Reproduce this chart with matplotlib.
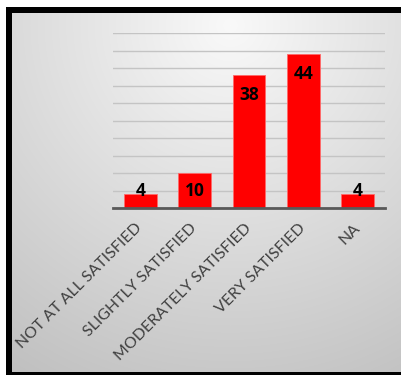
import numpy as np
import matplotlib
matplotlib.use("Agg")
import matplotlib.pyplot as plt
from matplotlib.patches import Rectangle

categories = ["NOT AT ALL SATISFIED", "SLIGHTLY SATISFIED", "MODERATELY SATISFIED",
              "VERY SATISFIED", "NA"]
values = [4, 10, 38, 44, 4]

W, H = 401, 377
fig = plt.figure(figsize=(W / 100, H / 100), dpi=100)
fig.patch.set_facecolor("white")

# black frame
fig.add_artist(Rectangle((6 / W, 1 - 375 / H), (W + 10 - 6) / W, (375 - 7) / H,
                         transform=fig.transFigure, facecolor="black",
                         edgecolor="none", zorder=0))

# gradient background panel
x0, x1, y0, y1 = 12, W, 13, 372
bg = fig.add_axes([x0 / W, 1 - y1 / H, (x1 - x0) / W, (y1 - y0) / H], zorder=0)
yy, xx = np.mgrid[y0:y1, x0:x1]
d = np.hypot(xx - 230, (yy - 25) * 1.0)
g = np.clip(249 - 0.14 * d, 185, 250) / 255.0
img = np.dstack([g, g, g])
bg.imshow(img, aspect="auto", interpolation="bilinear")
bg.axis("off")

# chart axes
left, right, top, bottom = 113, 385, 33.3, 208.3
ax = fig.add_axes([left / W, 1 - bottom / H, (right - left) / W, (bottom - top) / H],
                  zorder=1)
ax.patch.set_alpha(0)
x = np.arange(len(categories))
ax.bar(x, values, width=0.6, color="#ff0000", edgecolor="#ff6a6a", linewidth=0.6, zorder=3)
ax.set_xlim(-0.5, len(categories) - 0.5)
ax.set_ylim(0, 50)
ax.set_yticks(np.arange(0, 51, 5))
ax.yaxis.grid(True, color="#c4c4c4", linewidth=1.0, zorder=0)
ax.set_axisbelow(True)
ax.tick_params(axis="y", length=0, labelleft=False)
ax.tick_params(axis="x", length=0, pad=12.5, colors="#404040")
for s in ["left", "right", "top"]:
    ax.spines[s].set_visible(False)
ax.spines["bottom"].set_color("#595959")
ax.spines["bottom"].set_linewidth(2.0)
ax.spines["bottom"].set_zorder(4)

ax.set_xticks(x)
ax.set_xticklabels(categories, fontfamily="Lato", fontsize=11.4, color="#404040")
plt.setp(ax.get_xticklabels(), rotation=45, ha="right", va="center",
         rotation_mode="anchor")

for xi, v in zip(x, values):
    ypos = max(v - 5.7, 4.86)
    ax.text(xi, ypos, str(v), ha="center", va="center", fontsize=12.5,
            fontweight="bold", fontfamily="Open Sans", color="black", zorder=5)

fig.savefig("out.png", dpi=100)
